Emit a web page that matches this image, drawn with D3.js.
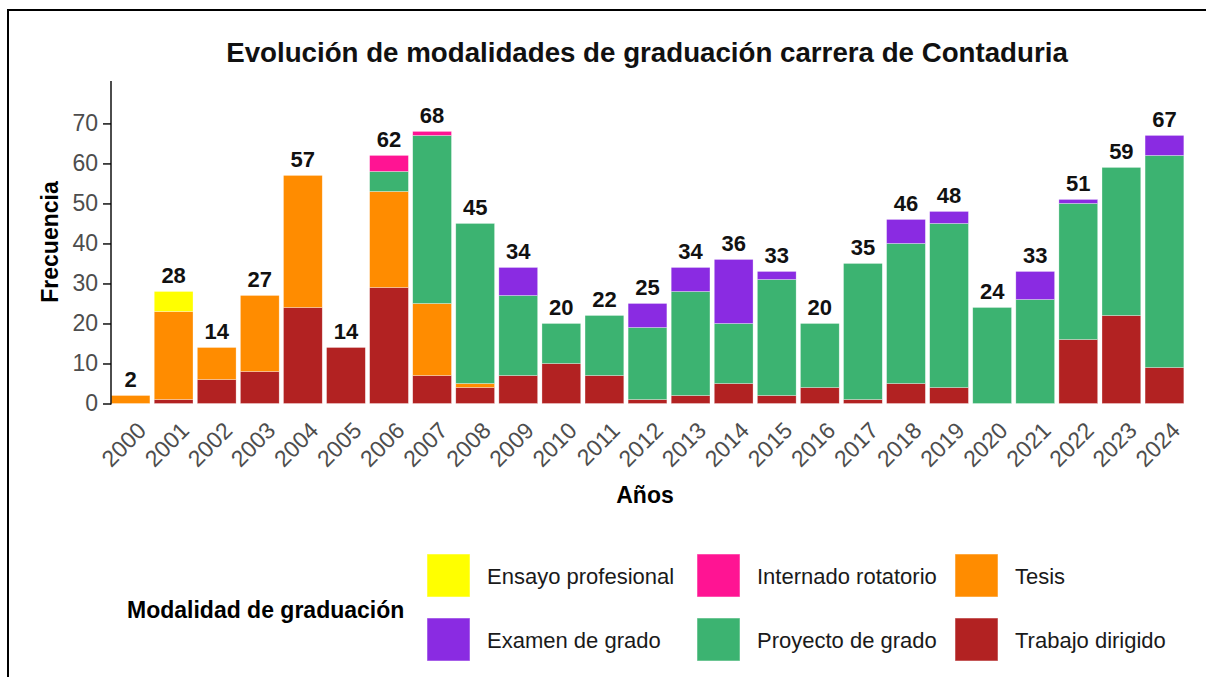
<!DOCTYPE html>
<html>
<head>
<meta charset="utf-8">
<script src="https://cdn.jsdelivr.net/npm/d3@7"></script>
<style>
  html, body { margin: 0; padding: 0; background: #fff; }
  svg text { font-family: "Liberation Sans", Arial, sans-serif; }
</style>
</head>
<body>
<div id="chart"></div>
<script>
var years = ['2000', '2001', '2002', '2003', '2004', '2005', '2006', '2007',
  '2008', '2009', '2010', '2011', '2012', '2013', '2014', '2015', '2016',
  '2017', '2018', '2019', '2020', '2021', '2022', '2023', '2024'];

var trabajoDirigido = [0, 1, 6, 8, 24, 14, 29, 7, 4, 7, 10, 7, 1, 2, 5, 2, 4, 1, 5, 4, 0, 0, 16, 22, 9];
var tesis = [2, 22, 8, 19, 33, 0, 24, 18, 1, 0, 0, 0, 0, 0, 0, 0, 0, 0, 0, 0, 0, 0, 0, 0, 0];
var proyectoGrado = [0, 0, 0, 0, 0, 0, 5, 42, 40, 20, 10, 15, 18, 26, 15, 29, 16, 34, 35, 41, 24, 26, 34, 37, 53];
var internadoRotatorio = [0, 0, 0, 0, 0, 0, 4, 1, 0, 0, 0, 0, 0, 0, 0, 0, 0, 0, 0, 0, 0, 0, 0, 0, 0];
var examenGrado = [0, 0, 0, 0, 0, 0, 0, 0, 0, 7, 0, 0, 6, 6, 16, 2, 0, 0, 6, 3, 0, 7, 1, 0, 5];
var ensayoProfesional = [0, 5, 0, 0, 0, 0, 0, 0, 0, 0, 0, 0, 0, 0, 0, 0, 0, 0, 0, 0, 0, 0, 0, 0, 0];

// stacking order, bottom to top
var modalidades = ['Trabajo dirigido', 'Tesis', 'Proyecto de grado',
  'Internado rotatorio', 'Examen de grado', 'Ensayo profesional'];
var seriesValues = [trabajoDirigido, tesis, proyectoGrado,
  internadoRotatorio, examenGrado, ensayoProfesional];
var colores = ['#B22222', '#FF8C00', '#3CB371', '#FF1493', '#8A2BE2', '#FFFF00'];

// legend order (filled by row)
var legendOrder = ['Ensayo profesional', 'Internado rotatorio', 'Tesis',
  'Examen de grado', 'Proyecto de grado', 'Trabajo dirigido'];

var yTicks = [0, 10, 20, 30, 40, 50, 60, 70];

(function () {
  var width = 1206;
  var height = 677;
  var plot = {left: 109, right: 1186, top: 81, bottom: 403.5};
  var svg, x, y, color;

  /**
   * Builds one row per year with a field for each modality
   */
  function buildRows() {
    return years.map(function (year, i) {
      var row = {year: year, total: 0};
      modalidades.forEach(function (m, k) {
        row[m] = seriesValues[k][i];
        row.total += seriesValues[k][i];
      });
      return row;
    });
  }

  /**
   * Draws the stacked bars and the total above each one
   */
  function drawBars(rows) {
    var stacked = d3.stack().keys(modalidades)(rows);

    svg.append('g')
      .selectAll('g')
      .data(stacked)
      .join('g')
        .attr('fill', function (d) { return color(d.key); })
      .selectAll('rect')
      .data(function (d) { return d.filter(function (s) { return s[1] > s[0]; }); })
      .join('rect')
        .attr('x', function (d) { return x(d.data.year); })
        .attr('width', x.bandwidth())
        .attr('y', function (d) { return y(d[1]); })
        .attr('height', function (d) { return y(d[0]) - y(d[1]); })
        .attr('stroke', '#ffffff')
        .attr('stroke-opacity', 0.5)
        .attr('stroke-width', 0.6);

    svg.append('g')
      .selectAll('text')
      .data(rows)
      .join('text')
        .attr('x', function (d) { return x(d.year) + x.bandwidth() / 2; })
        .attr('y', function (d) { return y(d.total) - 8; })
        .attr('text-anchor', 'middle')
        .attr('font-size', 22)
        .attr('font-weight', 'bold')
        .attr('fill', '#111')
        .text(function (d) { return d.total; });
  }

  /**
   * Y axis with line and ticks, x tick labels rotated 45 degrees
   */
  function drawAxes() {
    var yAxis = svg.append('g')
      .attr('transform', 'translate(111,0)')
      .call(d3.axisLeft(y).tickValues(yTicks).tickSize(8).tickPadding(5));

    yAxis.select('.domain')
      .attr('d', 'M0,' + plot.top + 'V' + (plot.bottom + 1))
      .attr('stroke', '#000')
      .attr('stroke-width', 1.4);
    yAxis.selectAll('.tick line').attr('stroke', '#000').attr('stroke-width', 1.4);
    yAxis.selectAll('.tick text')
      .attr('font-size', 23)
      .attr('fill', '#4D4D4D')
      .attr('font-family', '"Liberation Sans", Arial, sans-serif');

    svg.append('g')
      .selectAll('text')
      .data(years)
      .join('text')
        .attr('transform', function (d) {
          return 'translate(' + (x(d) + x.bandwidth() / 2 + 17) + ',432) rotate(-45)';
        })
        .attr('text-anchor', 'end')
        .attr('font-size', 23)
        .attr('fill', '#4D4D4D')
        .text(function (d) { return d; });

    svg.append('text')
      .attr('x', 645)
      .attr('y', 503)
      .attr('text-anchor', 'middle')
      .attr('font-size', 23)
      .attr('font-weight', 'bold')
      .text('Años');

    svg.append('text')
      .attr('transform', 'translate(58,242) rotate(-90)')
      .attr('text-anchor', 'middle')
      .attr('font-size', 23)
      .attr('font-weight', 'bold')
      .text('Frecuencia');
  }

  /**
   * Legend: title on the left, keys in a 3 x 2 grid
   */
  function drawLegend() {
    var colX = [427, 697, 955];
    var rowY = [554, 618];
    var key = 43;

    svg.append('text')
      .attr('x', 127)
      .attr('y', 618)
      .attr('font-size', 23)
      .attr('font-weight', 'bold')
      .text('Modalidad de graduación');

    var items = svg.append('g')
      .selectAll('g')
      .data(legendOrder)
      .join('g')
        .attr('transform', function (d, i) {
          return 'translate(' + colX[i % 3] + ',' + rowY[Math.floor(i / 3)] + ')';
        });

    items.append('rect')
      .attr('width', key)
      .attr('height', key)
      .attr('fill', function (d) { return color(d); })
      .attr('stroke', '#ffffff')
      .attr('stroke-opacity', 0.5);

    items.append('text')
      .attr('x', key + 17)
      .attr('y', key / 2 + 8)
      .attr('font-size', 22)
      .attr('fill', '#1a1a1a')
      .text(function (d) { return d; });
  }

  svg = d3.select('#chart')
    .append('svg')
    .attr('width', width)
    .attr('height', height);

  svg.append('rect')
    .attr('width', width)
    .attr('height', height)
    .attr('fill', '#fff');

  // frame of the original screenshot
  svg.append('path')
    .attr('d', 'M8,' + height + 'V10H' + width)
    .attr('fill', 'none')
    .attr('stroke', '#000')
    .attr('stroke-width', 2);

  x = d3.scaleBand()
    .domain(years)
    .range([plot.left, plot.right])
    .paddingInner(0.1)
    .paddingOuter(0.05);

  y = d3.scaleLinear()
    .domain([0, 80.6])
    .range([plot.bottom, plot.top]);

  color = d3.scaleOrdinal().domain(modalidades).range(colores);

  svg.append('text')
    .attr('x', 647)
    .attr('y', 62)
    .attr('text-anchor', 'middle')
    .attr('font-size', 27.7)
    .attr('font-weight', 'bold')
    .attr('fill', '#111')
    .text('Evolución de modalidades de graduación carrera de Contaduria');

  var rows = buildRows();
  drawBars(rows);
  drawAxes();
  drawLegend();
}());
</script>
</body>
</html>
